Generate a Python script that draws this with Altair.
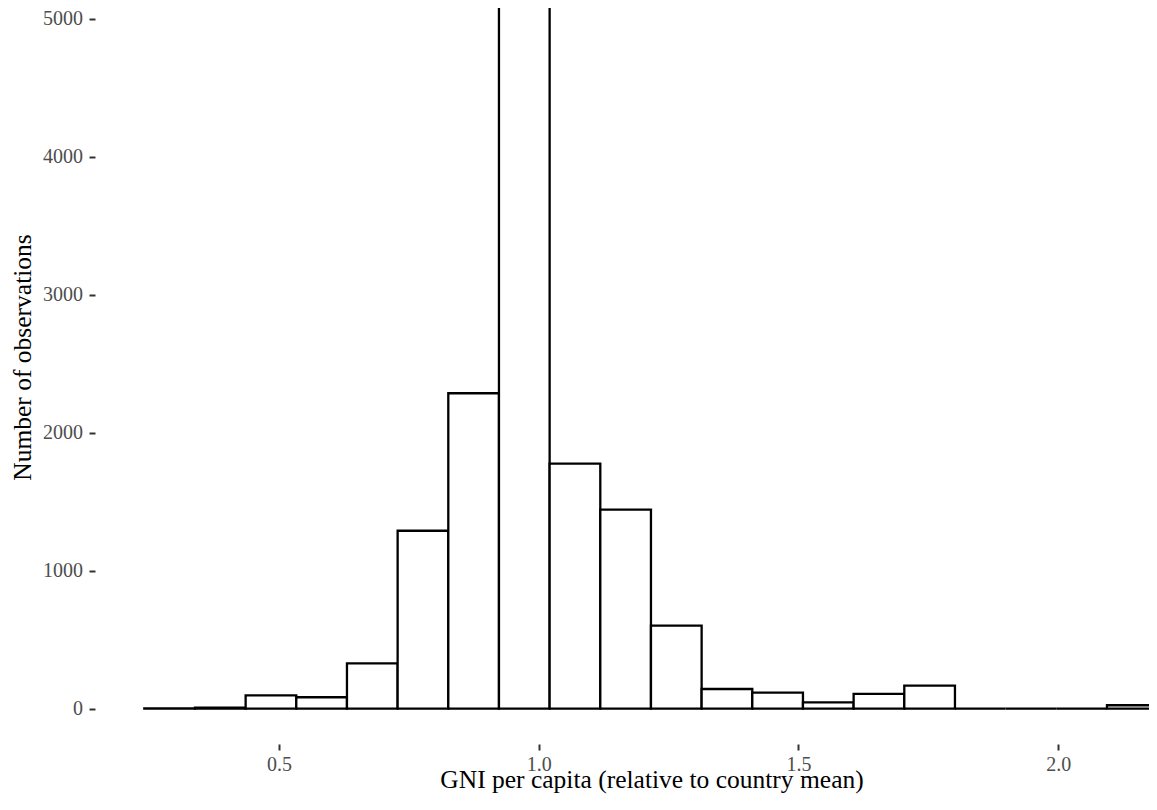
import altair as alt
import pandas as pd

# Histogram data (20 bins)
first_bin_start = 0.2407
bin_width = 0.09753
counts = [3, 8, 97, 83, 329, 1290, 2287, 5111, 1776, 1443,
          602, 143, 116, 46, 107, 167, 0, 0, 0, 25]
x_ticks = [0.5, 1.0, 1.5, 2.0]
y_ticks = [0, 1000, 2000, 3000, 4000, 5000]

bin_starts = [first_bin_start + i * bin_width for i in range(len(counts))]
bin_ends = [s + bin_width for s in bin_starts]

df = pd.DataFrame({"start": bin_starts, "end": bin_ends, "count": counts})

x_domain = [0.1458, 2.1747]
y_domain = [-255.9, 5079.7]

label_style = dict(labelFont="Liberation Serif", labelFontSize=20,
                   labelColor="#4D4D4D", labelFontWeight="normal")
title_style = dict(titleFont="Liberation Serif", titleFontSize=25.5,
                   titleColor="black", titleFontWeight="normal")

chart = alt.Chart(df).mark_rect(
    fill="white", stroke="black", strokeWidth=2.3, clip=True
).encode(
    x=alt.X("start:Q",
            scale=alt.Scale(domain=x_domain, nice=False, zero=False),
            axis=alt.Axis(values=x_ticks, format=".1f",
                          title="GNI per capita (relative to country mean)",
                          titleX=556.5, titleY=43,
                          titleBaseline="alphabetic", titleAlign="center",
                          labelBaseline="alphabetic", labelPadding=20,
                          tickSize=6, **label_style, **title_style)),
    x2="end:Q",
    y=alt.Y("count:Q",
            scale=alt.Scale(domain=y_domain, nice=False, zero=False),
            axis=alt.Axis(values=y_ticks, format="d",
                          title="Number of observations",
                          titleX=-73, titleY=349, titleAngle=270,
                          titleBaseline="middle", titleAlign="center",
                          labelPadding=6.5, tickSize=6,
                          **label_style, **title_style)),
    y2=alt.datum(0),
).properties(
    width=1054,
    height=736,
    autosize=alt.AutoSizeParams(type="none"),
    padding={"left": 87, "top": 0, "right": 0, "bottom": 50},
).configure(
    font="Liberation Serif",
).configure_view(
    stroke=None,
).configure_axis(
    domain=False,
    grid=False,
    tickColor="#333333",
    tickWidth=2,
)

chart.save("out.html", embed_options={"renderer": "svg", "actions": False})
